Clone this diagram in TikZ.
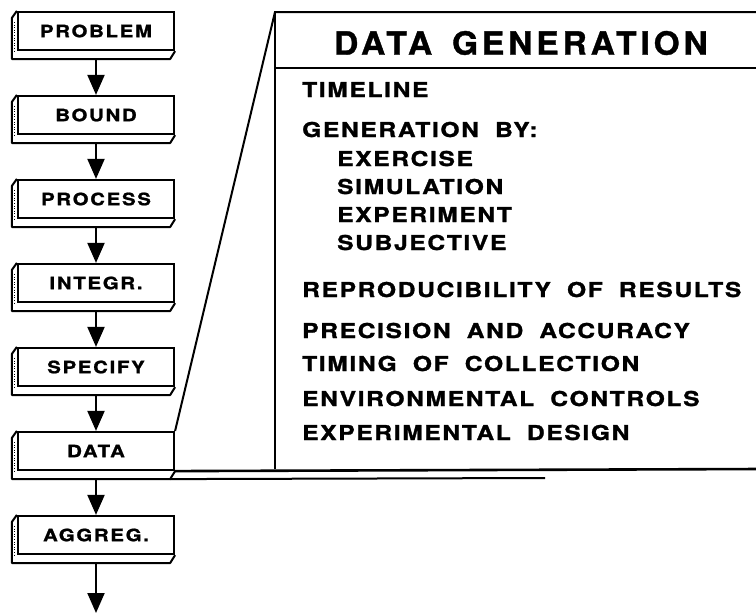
\documentclass[tikz,border=0pt]{standalone}
\usepackage{fontspec}
\setmainfont{TeX Gyre Heros}
\newfontfamily\boxfont{TeX Gyre Heros}[LetterSpace=10,FakeStretch=1.2,FakeBold=1.2]
\newfontfamily\listfont{TeX Gyre Heros}[LetterSpace=8,FakeStretch=1.2,FakeBold=1.3,WordSpace=1.9]
\newfontfamily\headfont{TeX Gyre Heros}[LetterSpace=12,FakeStretch=1.05,FakeBold=1,WordSpace=1.5]
\usepackage{tikz}
\usetikzlibrary{positioning,arrows.meta}

\tikzset{
  stage/.style={draw, line width=2.2pt, fill=white, inner sep=0pt,
    minimum width=156pt, minimum height=38pt,
    font=\boxfont\bfseries\fontsize{17}{20}\selectfont},
  slab/.style={line width=2pt, line join=round},
  hatch/.style={line width=1.6pt, dash pattern=on 1pt off 1.6pt},
  flow/.style={line width=2pt, -{Triangle[length=20pt,width=17pt]}},
  panel/.style={line width=2pt},
  item/.style={anchor=base west, inner sep=0pt,
    font=\listfont\bfseries\fontsize{20.5}{24}\selectfont}
}

\begin{document}
\begin{tikzpicture}[x=1pt,y=-1pt]
                \useasboundingbox (0,0) rectangle (756,614);

                \node[stage] (problem) at (96,31)  {PROBLEM};
                \node[stage] (bound)   at (96,115) {BOUND};
                \node[stage] (process) at (96,199) {PROCESS};
                \node[stage] (integr)  at (96,283) {INTEGR.};
                \node[stage] (specify) at (96,367) {SPECIFY};
                \node[stage] (data)    at (96,451) {DATA};
                \node[stage] (aggreg)  at (96,535) {AGGREG.};
                \coordinate (out) at (96,613);

                % raised edge of every box
                \foreach \n in {problem,bound,process,integr,specify,data,aggreg}{
                    \draw[slab] (\n.north west) -- ++(-5,7)
                        -- ([shift={(-5,8)}]\n.south west)
                        -- ([shift={(-5,8)}]\n.south east) -- (\n.south east);
                    \draw[hatch] ([shift={(-2.5,11)}]\n.north west)
                        -- ([shift={(-2.5,2)}]\n.south west);
                }

                \path[flow]
                ([yshift=-8pt]problem.south) edge (bound.north)
                ([yshift=-8pt]bound.south)   edge (process.north)
                ([yshift=-8pt]process.south) edge (integr.north)
                ([yshift=-8pt]integr.south)  edge (specify.north)
                ([yshift=-8pt]specify.south) edge (data.north)
                ([yshift=-8pt]data.south)    edge (aggreg.north)
                ([yshift=-8pt]aggreg.south)  edge (out);

                % blow-up of the data step
                \coordinate (pnw) at (275,12);
                \coordinate (psw) at (275,469);
                \draw[panel] (data.north east) -- (pnw) -- (760,12);
                \draw[panel] (275,68) -- (760,68);
                \draw[panel] (pnw) -- (psw);
                \draw[line width=2.6pt] (data.south east) -- (760,469);
                \draw[panel] ([shift={(-5,8)}]data.south east) -- (545,478);

                \node[font=\headfont\bfseries\fontsize{32}{36}\selectfont] (head) at (521,43) {DATA GENERATION};

                \node[item] (L1)  at (302,97)  {TIMELINE};
                \node[item] (L2)  at (302,137) {GENERATION BY:};
                \node[item] (L3)  at (337,166) {EXERCISE};
                \node[item] (L4)  at (337,194) {SIMULATION};
                \node[item] (L5)  at (337,222) {EXPERIMENT};
                \node[item] (L6)  at (337,250) {SUBJECTIVE};
                \node[item] (L7)  at (302,297) {REPRODUCIBILITY OF RESULTS};
                \node[item] (L8)  at (302,338) {PRECISION AND ACCURACY};
                \node[item] (L9)  at (302,371) {TIMING OF COLLECTION};
                \node[item] (L10) at (302,406) {ENVIRONMENTAL CONTROLS};
                \node[item] (L11) at (302,440) {EXPERIMENTAL DESIGN};
            \end{tikzpicture}
\end{document}
